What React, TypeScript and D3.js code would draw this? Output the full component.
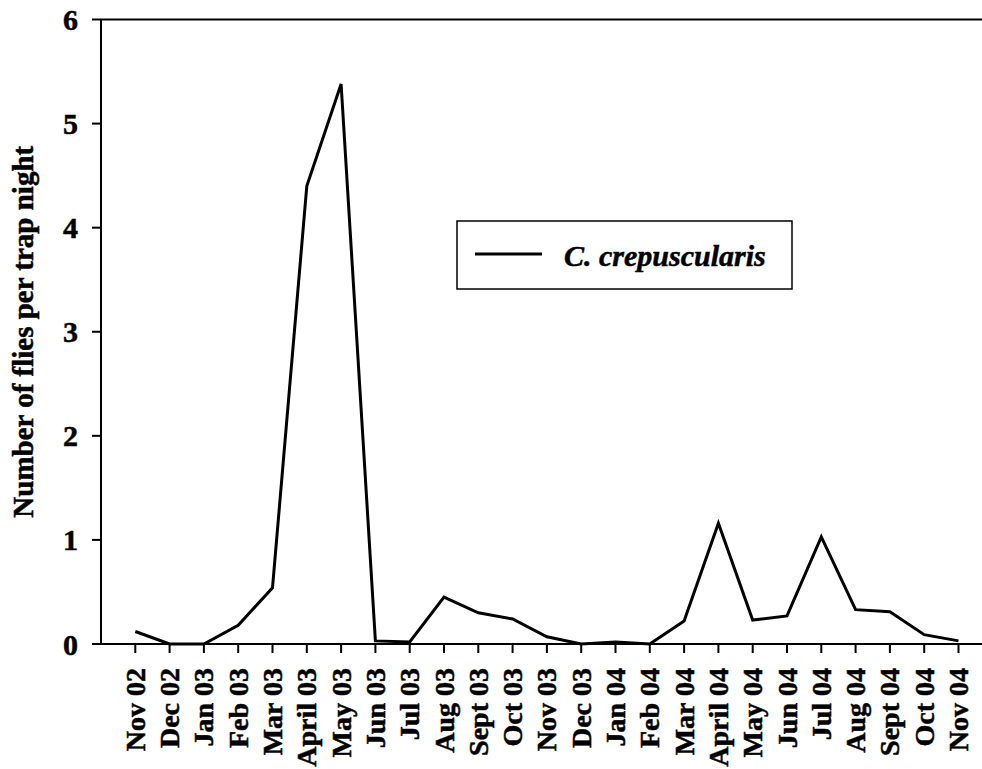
import React from "react";
import * as d3 from "d3";

// Monthly trap catches, Nov 2002 – Nov 2004
const months = [
  "Nov 02", "Dec 02", "Jan 03", "Feb 03", "Mar 03", "April 03", "May 03",
  "Jun 03", "Jul 03", "Aug 03", "Sept 03", "Oct 03", "Nov 03", "Dec 03",
  "Jan 04", "Feb 04", "Mar 04", "April 04", "May 04", "Jun 04", "Jul 04",
  "Aug 04", "Sept 04", "Oct 04", "Nov 04",
];
const fliesPerTrapNight = [
  0.12, 0, 0, 0.18, 0.54, 4.4, 5.38,
  0.03, 0.02, 0.45, 0.3, 0.24, 0.07, 0,
  0.02, 0, 0.22, 1.16, 0.23, 0.27, 1.03,
  0.33, 0.31, 0.09, 0.03,
];
const yTicks = [0, 1, 2, 3, 4, 5, 6];
const seriesName = "C. crepuscularis";
const yTitle = "Number of flies per trap night";

const W = 982;
const H = 769;
const FONT = "'Liberation Serif', 'Times New Roman', Times, serif";

export default function App() {
  const left = 101;
  const top = 19.5;
  const bottom = 644;
  const step = 34.3;

  // positions 1..n on a 0..n+1 axis so the first point sits one step in
  const x = d3.scaleLinear().domain([0, months.length + 1]).range([left, left + step * (months.length + 1)]);
  const y = d3.scaleLinear().domain([0, 6]).range([bottom, top]);

  const line = d3
    .line<number>()
    .x((_, i) => x(i + 1))
    .y((d) => y(d));

  const axisRight = x(months.length + 1);
  const heavy = { stroke: "#000", strokeWidth: 0.5 };

  return (
    <svg
      width={W}
      height={H}
      style={{ position: "absolute", left: 0, top: 0, background: "#fff" }}
      fontFamily={FONT}
    >
      {/* frame: left axis, top border, baseline */}
      <line x1={left} x2={left} y1={top} y2={bottom} stroke="#000" strokeWidth={2} />
      <line x1={left} x2={axisRight} y1={top} y2={top} stroke="#000" strokeWidth={2} />
      <line x1={left - 9} x2={axisRight} y1={bottom} y2={bottom} stroke="#000" strokeWidth={2} />

      {/* y ticks */}
      {yTicks.map((t) => (
        <g key={t}>
          <line x1={left - 9} x2={left} y1={y(t)} y2={y(t)} stroke="#000" strokeWidth={2} />
          <text
            x={78}
            y={y(t)}
            textAnchor="end"
            dominantBaseline="central"
            fontSize={30}
            fontWeight="bold"
            {...heavy}
          >
            {t}
          </text>
        </g>
      ))}

      {/* x ticks and rotated month labels */}
      {months.map((m, i) => {
        const px = x(i + 1);
        return (
          <g key={m + i}>
            <line x1={px} x2={px} y1={bottom} y2={bottom + 9} stroke="#000" strokeWidth={2} />
            <text
              transform={`translate(${px},${668}) rotate(-90)`}
              textAnchor="end"
              dominantBaseline="central"
              fontSize={28}
              fontWeight="bold"
              {...heavy}
            >
              {m}
            </text>
          </g>
        );
      })}

      {/* y axis title */}
      <text
        transform={`translate(${23},${(top + bottom) / 2}) rotate(-90)`}
        textAnchor="middle"
        dominantBaseline="central"
        fontSize={29}
        fontWeight="bold"
        {...heavy}
      >
        {yTitle}
      </text>

      {/* series */}
      <path
        d={line(fliesPerTrapNight) ?? ""}
        fill="none"
        stroke="#000"
        strokeWidth={3}
        strokeLinejoin="miter"
      />

      {/* legend */}
      <rect x={457} y={221} width={335} height={68} fill="#fff" stroke="#000" strokeWidth={1.5} />
      <line x1={475} x2={542} y1={254} y2={254} stroke="#000" strokeWidth={3} />
      <text
        x={564}
        y={255}
        dominantBaseline="central"
        fontSize={30}
        fontWeight="bold"
        fontStyle="italic"
        {...heavy}
      >
        {seriesName}
      </text>
    </svg>
  );
}
